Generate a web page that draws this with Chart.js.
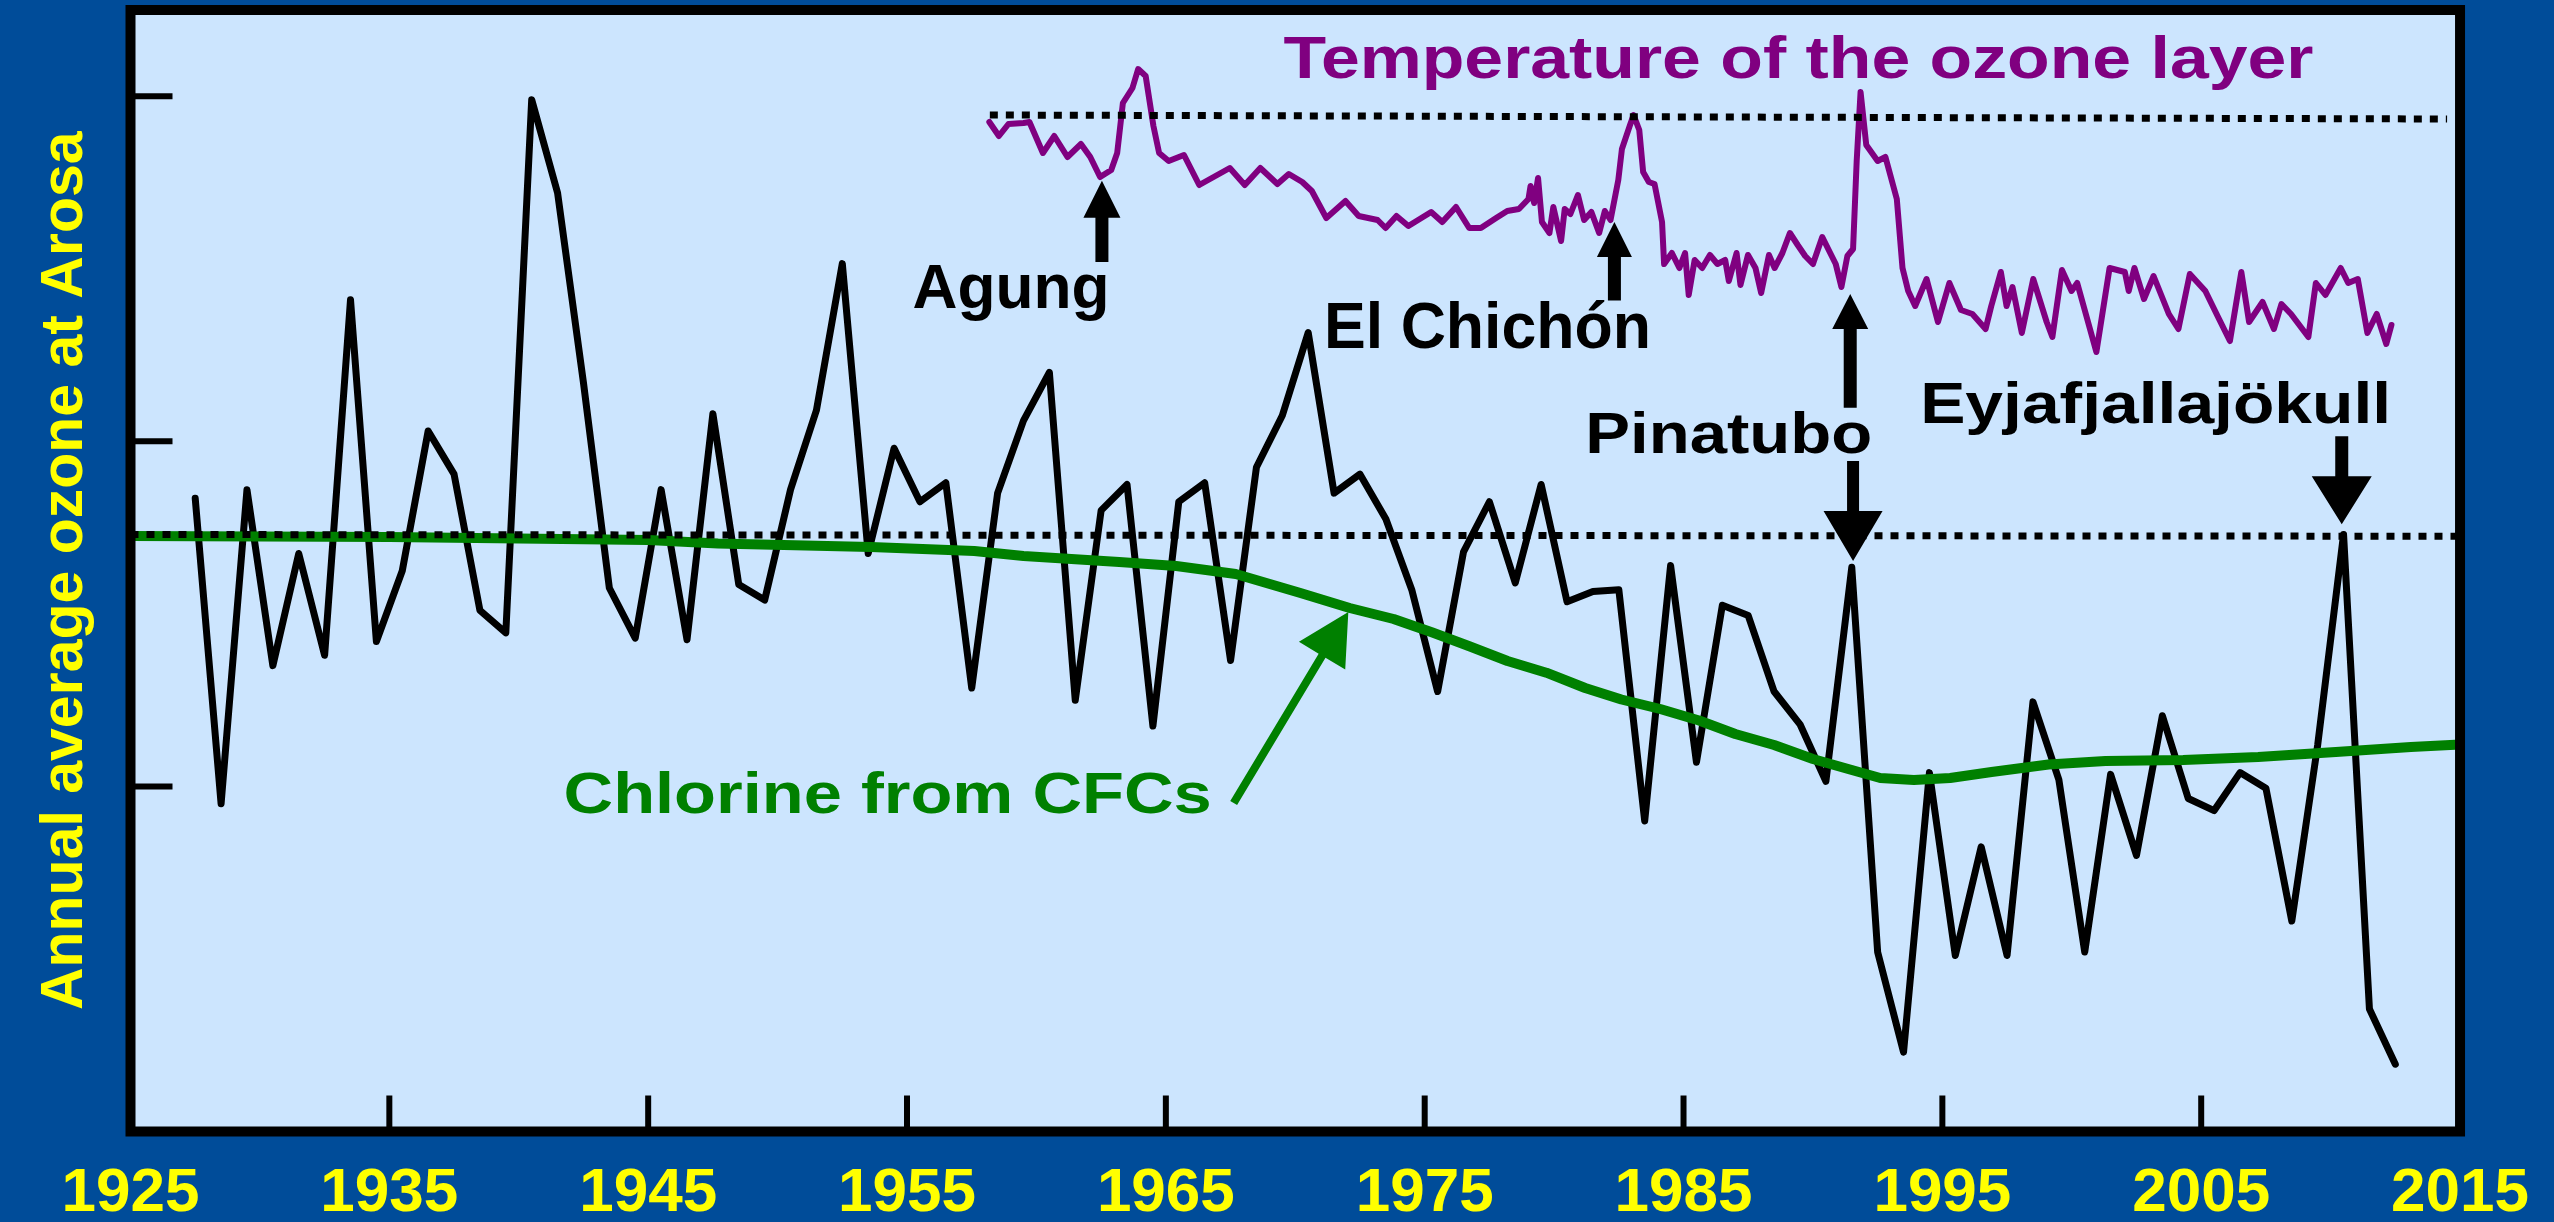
<!DOCTYPE html>
<html>
<head>
<meta charset="utf-8">
<script src="https://cdn.jsdelivr.net/npm/chart.js@4.4.1/dist/chart.umd.min.js"></script>
<style>
	html, body { margin: 0; padding: 0; background: #004c99; }
	#ozone-wrap { width: 2554px; height: 1222px; }
</style>
</head>
<body>
<div id="ozone-wrap"><canvas id="ozone-chart" width="2554" height="1222"></canvas></div>
<script>
// annual average total ozone at Arosa (DU), plotted at mid-year
const ozoneYears = [1927, 1928, 1929, 1930, 1931, 1932, 1933, 1934, 1935, 1936, 1937, 1938, 1939, 1940, 1941, 1942, 1943, 1944, 1945, 1946,
	1947, 1948, 1949, 1950, 1951, 1952, 1953, 1954, 1955, 1956, 1957, 1958, 1959, 1960, 1961, 1962, 1963, 1964, 1965, 1966,
	1967, 1968, 1969, 1970, 1971, 1972, 1973, 1974, 1975, 1976, 1977, 1978, 1979, 1980, 1981, 1982, 1983, 1984, 1985, 1986,
	1987, 1988, 1989, 1990, 1991, 1992, 1993, 1994, 1995, 1996, 1997, 1998, 1999, 2000, 2001, 2002, 2003, 2004, 2005, 2006,
	2007, 2008, 2009, 2010, 2011, 2012];
const ozoneValues = [336.7, 319.0, 337.2, 327.0, 333.5, 327.6, 348.2, 328.4, 332.5, 340.6, 338.1, 330.2, 328.9, 359.8, 354.4, 343.4, 331.5, 328.6, 337.2, 328.5,
	341.6, 331.7, 330.8, 337.2, 341.8, 350.3, 333.5, 339.6, 336.5, 337.6, 325.7, 337.0, 341.2, 344.0, 325.0, 336.0, 337.5, 323.5, 336.5, 337.6,
	327.3, 338.5, 341.5, 346.3, 337.0, 338.1, 335.5, 331.4, 325.5, 333.6, 336.5, 331.8, 337.5, 330.7, 331.3, 331.4, 318.0, 332.8, 321.4, 330.5,
	329.9, 325.5, 323.6, 320.3, 332.7, 310.4, 304.6, 320.8, 310.2, 316.5, 310.2, 324.9, 320.4, 310.4, 320.7, 316.0, 324.1, 319.3, 318.6, 320.8,
	319.9, 312.2, 322.4, 334.6, 307.1, 303.9];

// pre-1970 ozone level (dotted)
const ozoneRefYears = [1925, 2015];
const ozoneRefValues = [334.6, 334.5];

// stratospheric temperature anomaly (K)
const tempYears = [1958.18, 1958.55, 1958.92, 1959.50, 1959.73, 1960.25, 1960.69, 1961.20, 1961.72, 1962.08,
	1962.46, 1962.89, 1963.12, 1963.34, 1963.71, 1963.93, 1964.22, 1964.52, 1964.74, 1965.11,
	1965.70, 1966.29, 1967.47, 1968.05, 1968.65, 1969.31, 1969.75, 1970.27, 1970.64, 1971.20,
	1971.94, 1972.45, 1973.18, 1973.49, 1973.91, 1974.37, 1975.25, 1975.68, 1976.21, 1976.72,
	1977.17, 1977.76, 1978.19, 1978.64, 1979.01, 1979.09, 1979.23, 1979.38, 1979.53, 1979.82,
	1979.97, 1980.27, 1980.41, 1980.63, 1980.92, 1981.16, 1981.44, 1981.74, 1981.96, 1982.18,
	1982.48, 1982.62, 1982.92, 1983.07, 1983.29, 1983.44, 1983.66, 1983.88, 1984.17, 1984.25,
	1984.55, 1984.84, 1985.06, 1985.20, 1985.43, 1985.72, 1986.02, 1986.31, 1986.61, 1986.75,
	1987.05, 1987.20, 1987.49, 1987.78, 1988.00, 1988.30, 1988.52, 1988.82, 1989.11, 1989.41,
	1989.70, 1990.00, 1990.36, 1990.59, 1990.88, 1991.10, 1991.33, 1991.55, 1991.69, 1991.84,
	1992.06, 1992.50, 1992.80, 1993.24, 1993.46, 1993.68, 1993.95, 1994.39, 1994.83, 1995.27,
	1995.72, 1996.16, 1996.67, 1996.89, 1997.26, 1997.48, 1997.71, 1998.07, 1998.51, 1999.03,
	1999.25, 1999.62, 1999.99, 2000.21, 2000.95, 2001.46, 2002.05, 2002.20, 2002.42, 2002.79,
	2003.16, 2003.75, 2004.12, 2004.56, 2005.16, 2005.67, 2006.11, 2006.55, 2006.85, 2007.37,
	2007.81, 2008.10, 2008.47, 2009.14, 2009.43, 2009.80, 2010.39, 2010.68, 2011.05, 2011.42,
	2011.78, 2012.15, 2012.35];
const tempValues = [-0.06, -0.20, -0.08, -0.07, -0.06, -0.37, -0.20, -0.41, -0.28, -0.41,
	-0.61, -0.54, -0.37, 0.13, 0.28, 0.47, 0.40, -0.10, -0.37, -0.45,
	-0.39, -0.69, -0.52, -0.69, -0.52, -0.68, -0.58, -0.66, -0.75, -1.02,
	-0.85, -1.00, -1.04, -1.12, -1.00, -1.10, -0.96, -1.06, -0.91, -1.12,
	-1.12, -1.02, -0.95, -0.93, -0.83, -0.70, -0.87, -0.62, -1.06, -1.17,
	-0.91, -1.25, -0.93, -0.98, -0.79, -1.04, -0.96, -1.17, -0.95, -1.04,
	-0.64, -0.33, -0.10, 0.01, -0.14, -0.56, -0.66, -0.68, -1.06, -1.48,
	-1.37, -1.52, -1.37, -1.79, -1.44, -1.52, -1.39, -1.48, -1.44, -1.65,
	-1.37, -1.69, -1.39, -1.52, -1.77, -1.39, -1.52, -1.37, -1.17, -1.29,
	-1.40, -1.48, -1.21, -1.33, -1.48, -1.71, -1.40, -1.33, -0.45, 0.24,
	-0.29, -0.45, -0.41, -0.83, -1.52, -1.75, -1.90, -1.63, -2.06, -1.67,
	-1.94, -1.98, -2.13, -1.90, -1.56, -1.90, -1.71, -2.17, -1.63, -2.06,
	-2.21, -1.54, -1.75, -1.67, -2.36, -1.52, -1.56, -1.75, -1.52, -1.83,
	-1.60, -1.98, -2.13, -1.58, -1.75, -2.02, -2.25, -1.56, -2.06, -1.86,
	-2.13, -1.88, -1.98, -2.21, -1.67, -1.79, -1.52, -1.67, -1.63, -2.17,
	-1.98, -2.28, -2.09];

// pre-Agung temperature level (dotted)
const tempRefYears = [1958.2, 2014.5];
const tempRefValues = [0.01, -0.03];

// equivalent chlorine from CFCs (ppb), drawn on an inverted axis
const chlorineYears = [1925, 1935, 1945, 1947.7, 1953.6, 1957.6, 1959.5, 1963.2, 1965.4, 1967.7,
	1970.2, 1972.1, 1973.8, 1975.3, 1976.7, 1978.2, 1979.7, 1981.2, 1982.6, 1984.1,
	1985.6, 1987.0, 1988.5, 1990.0, 1991.5, 1992.6, 1993.9, 1995.3, 1996.9, 1999.1,
	2001.3, 2004.3, 2007.2, 2010.2, 2013.1, 2015];
const chlorineValues = [0.59, 0.60, 0.63, 0.665, 0.70, 0.74, 0.79, 0.85, 0.89, 0.97,
	1.16, 1.31, 1.42, 1.555, 1.69, 1.84, 1.957, 2.11, 2.225, 2.32,
	2.435, 2.57, 2.68, 2.82, 2.93, 3.01, 3.03, 3.01, 2.95, 2.875,
	2.84, 2.83, 2.80, 2.75, 2.70, 2.675];

const xTickYears = [1925, 1935, 1945, 1955, 1965, 1975, 1985, 1995, 2005, 2015];
const yTickValues = [320, 340, 360];

const FONT = "'Liberation Sans', Arial, sans-serif";
const OUTER_BG = '#004c99';
const PLOT_BG = '#cce5fe';
const PURPLE = '#800080';
const GREEN = '#008000';

// annotations, positioned in data units (year, ozone DU)
const notes = [
	{ text: 'Temperature of the ozone layer', x: 1989.44, y: 361.03, size: 59, width: 1030, color: PURPLE },
	{ text: 'Agung', x: 1959.02, y: 347.72, size: 63, width: 197, color: '#000' },
	{ text: 'El Chichón', x: 1977.43, y: 345.41, size: 64, width: 327, color: '#000' },
	{ text: 'Pinatubo', x: 1986.75, y: 339.34, size: 58, width: 287, color: '#000' },
	{ text: 'Eyjafjallajökull', x: 2003.24, y: 341.06, size: 58, width: 471, color: '#000' },
	{ text: 'Chlorine from CFCs', x: 1954.25, y: 318.48, size: 57, width: 648, color: GREEN }
];
const arrows = [
	{ from: [1962.53, 350.39], to: [1962.53, 355.11], shaft: 13, head: 37, headW: 37, color: '#000' },
	{ from: [1982.33, 348.17], to: [1982.33, 352.71], shaft: 13, head: 35, headW: 35, color: '#000' },
	{ from: [1991.44, 341.95], to: [1991.44, 348.54], shaft: 13, head: 35, headW: 36, color: '#000' },
	{ from: [1991.55, 338.86], to: [1991.55, 333.07], shaft: 12, head: 50, headW: 59, color: '#000' },
	{ from: [2010.43, 340.29], to: [2010.43, 335.19], shaft: 13, head: 48, headW: 60, color: '#000' },
	{ from: [1967.62, 319.04], to: [1972.05, 330.11], shaft: 8, head: 51, headW: 54, color: GREEN }
];

function pairs(xs, ys) {
	return xs.map((x, i) => ({ x: x, y: ys[i] }));
}

function drawNote(ctx, n, px, py) {
	ctx.save();
	ctx.font = 'bold ' + n.size + 'px ' + FONT;
	const natural = ctx.measureText(n.text).width;
	ctx.translate(px, py);
	ctx.scale(n.width / natural, 1);
	ctx.fillStyle = n.color;
	ctx.textAlign = 'center';
	ctx.textBaseline = 'alphabetic';
	ctx.fillText(n.text, 0, 0);
	ctx.restore();
}

function drawArrow(ctx, x1, y1, x2, y2, a) {
	const len = Math.hypot(x2 - x1, y2 - y1);
	ctx.save();
	ctx.translate(x1, y1);
	ctx.rotate(Math.atan2(y2 - y1, x2 - x1));
	ctx.fillStyle = a.color;
	ctx.beginPath();
	ctx.moveTo(0, -a.shaft / 2);
	ctx.lineTo(len - a.head, -a.shaft / 2);
	ctx.lineTo(len - a.head, -a.headW / 2);
	ctx.lineTo(len, 0);
	ctx.lineTo(len - a.head, a.headW / 2);
	ctx.lineTo(len - a.head, a.shaft / 2);
	ctx.lineTo(0, a.shaft / 2);
	ctx.closePath();
	ctx.fill();
	ctx.restore();
}

const slideLook = {
	id: 'slideLook',
	beforeDraw(chart) {
		const { ctx, chartArea: a } = chart;
		ctx.save();
		ctx.fillStyle = OUTER_BG;
		ctx.fillRect(0, 0, chart.width, chart.height);
		ctx.fillStyle = PLOT_BG;
		ctx.fillRect(a.left, a.top, a.right - a.left, a.bottom - a.top);
		ctx.restore();
	},
	afterDatasetsDraw(chart) {
		const { ctx, chartArea: a, scales } = chart;
		ctx.save();
		// inward tick marks
		ctx.strokeStyle = '#000';
		ctx.lineWidth = 6;
		yTickValues.forEach(v => {
			const py = scales.y.getPixelForValue(v);
			ctx.beginPath();
			ctx.moveTo(a.left, py);
			ctx.lineTo(a.left + 42, py);
			ctx.stroke();
		});
		xTickYears.forEach(v => {
			const px = scales.x.getPixelForValue(v);
			ctx.beginPath();
			ctx.moveTo(px, a.bottom);
			ctx.lineTo(px, a.bottom - 36);
			ctx.stroke();
		});
		// frame
		ctx.lineWidth = 10;
		ctx.strokeRect(a.left, a.top, a.right - a.left, a.bottom - a.top);
		ctx.restore();

		arrows.forEach(ar => {
			drawArrow(ctx,
				scales.x.getPixelForValue(ar.from[0]), scales.y.getPixelForValue(ar.from[1]),
				scales.x.getPixelForValue(ar.to[0]), scales.y.getPixelForValue(ar.to[1]), ar);
		});
		notes.forEach(n => {
			drawNote(ctx, n, scales.x.getPixelForValue(n.x), scales.y.getPixelForValue(n.y));
		});
	}
};

new Chart(document.getElementById('ozone-chart'), {
	type: 'line',
	data: {
		datasets: [
			{
				label: 'Ozone reference',
				data: pairs(ozoneRefYears, ozoneRefValues),
				borderColor: '#000',
				borderWidth: 7,
				borderDash: [8, 8],
				borderCapStyle: 'butt',
				yAxisID: 'y'
			},
			{
				label: 'Temperature reference',
				data: pairs(tempRefYears, tempRefValues),
				borderColor: '#000',
				borderWidth: 7,
				borderDash: [8, 8],
				borderCapStyle: 'butt',
				yAxisID: 'yT'
			},
			{
				label: 'Chlorine from CFCs',
				data: pairs(chlorineYears, chlorineValues),
				borderColor: GREEN,
				borderWidth: 10,
				yAxisID: 'yCl'
			},
			{
				label: 'Temperature of the ozone layer',
				data: pairs(tempYears, tempValues),
				borderColor: PURPLE,
				borderWidth: 6,
				yAxisID: 'yT'
			},
			{
				label: 'Annual average ozone at Arosa',
				data: ozoneYears.map((yr, i) => ({ x: yr + 0.5, y: ozoneValues[i] })),
				borderColor: '#000',
				borderWidth: 7,
				yAxisID: 'y'
			}
		]
	},
	options: {
		responsive: false,
		devicePixelRatio: 1,
		animation: false,
		events: [],
		layout: { padding: { left: 0, top: 10, right: 87.5, bottom: 0 } },
		elements: {
			point: { radius: 0 },
			line: { tension: 0, fill: false, borderJoinStyle: 'round', borderCapStyle: 'round' }
		},
		plugins: {
			legend: { display: false },
			tooltip: { enabled: false }
		},
		scales: {
			x: {
				type: 'linear',
				min: 1925,
				max: 2015,
				afterBuildTicks: s => { s.ticks = xTickYears.map(v => ({ value: v })); },
				afterFit: s => { s.height = 90.5; },
				grid: { display: false, drawTicks: false },
				border: { display: false },
				ticks: {
					autoSkip: false,
					maxRotation: 0,
					padding: 25,
					color: '#ffff00',
					font: { family: FONT, size: 62, weight: 'bold' },
					callback: v => String(v)
				}
			},
			y: {
				min: 300,
				max: 365,
				afterFit: s => { s.width = 130.5; },
				grid: { display: false, drawTicks: false },
				border: { display: false },
				ticks: { display: false },
				title: {
					display: true,
					text: 'Annual average ozone at Arosa',
					color: '#ffff00',
					font: { family: FONT, size: 59, weight: 'bold' },
					padding: { top: 30, bottom: 0 }
				}
			},
			yT: { display: false, min: -10.155, max: 1.06 },
			yCl: { display: false, reverse: true, min: -4.67, max: 6.545 }
		}
	},
	plugins: [slideLook]
});
</script>
</body>
</html>
